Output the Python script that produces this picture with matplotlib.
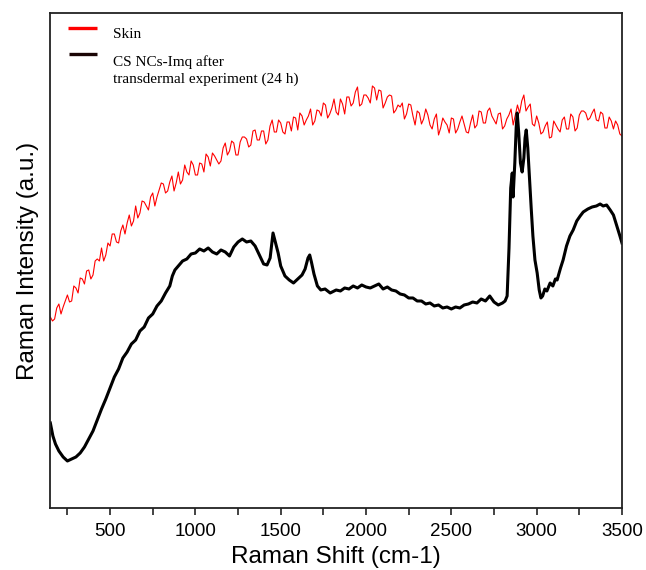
import numpy as np
import matplotlib
matplotlib.use("Agg")
import matplotlib.pyplot as plt
from matplotlib.ticker import MultipleLocator

# --- data (arbitrary intensity units) ---
# skin spectrum, read at 150, 175, ... and at the in-between points 162.5, 187.5, ...
skin_shift_a = np.arange(150, 3501, 25)
skin_int_a = [
    191, 189, 204, 201, 213, 207, 220, 230, 224, 238,
    233, 249, 260, 253, 262, 274, 265, 283, 285, 282,
    302, 295, 306, 298, 315, 311, 325, 315, 326, 317,
    336, 328, 336, 347, 333, 345, 336, 351, 355, 348,
    347, 365, 357, 365, 353, 371, 369, 363, 378, 368,
    377, 368, 388, 376, 385, 374, 386, 391, 378, 392,
    388, 399, 387, 397, 405, 390, 400, 396, 409, 394,
    411, 405, 421, 404, 413, 405, 420, 418, 400, 411,
    412, 398, 401, 389, 404, 392, 397, 384, 399, 383,
    389, 373, 390, 383, 390, 375, 386, 384, 375, 393,
    383, 396, 385, 400, 388, 394, 379, 389, 399, 393,
    395, 413, 401, 384, 392, 374, 382, 370, 387, 379,
    388, 379, 394, 377, 393, 397, 388, 395, 388, 396,
    380, 391, 379, 383, 372,
]
skin_shift_b = np.arange(162.5, 3500, 25)
skin_int_b = [
    187, 200, 194, 207, 206, 222, 215, 229, 237, 229,
    247, 247, 247, 265, 274, 266, 277, 274, 293, 287,
    290, 307, 302, 311, 302, 318, 324, 317, 332, 325,
    324, 343, 333, 343, 333, 344, 354, 342, 352, 344,
    360, 353, 367, 353, 366, 371, 361, 377, 368, 377,
    364, 382, 376, 388, 376, 386, 377, 390, 395, 383,
    392, 383, 398, 392, 403, 394, 409, 393, 404, 411,
    402, 416, 402, 413, 410, 422, 408, 417, 405, 413,
    395, 403, 405, 394, 403, 383, 395, 389, 393, 379,
    394, 380, 386, 375, 389, 379, 392, 376, 385, 380,
    397, 385, 397, 392, 384, 395, 382, 393, 383, 403,
    407, 397, 404, 382, 385, 376, 386, 371, 383, 376,
    391, 379, 391, 380, 397, 395, 390, 399, 387, 394,
    380, 387, 387, 374,
]

cs_shift = [
    150, 165, 180, 200, 225, 250, 275, 300, 325, 350,
    375, 400, 425, 450, 475, 500, 525, 550, 575, 600,
    625, 650, 675, 700, 725, 750, 775, 800, 825, 850,
    865, 880, 900, 925, 950, 975, 1000, 1025, 1050, 1075,
    1100, 1125, 1150, 1175, 1200, 1225, 1250, 1275, 1300, 1325,
    1350, 1375, 1400, 1420, 1438, 1455, 1470, 1485, 1500, 1525,
    1550, 1575, 1600, 1625, 1643, 1660, 1670, 1680, 1695, 1715,
    1735, 1760, 1790, 1825, 1850, 1875, 1900, 1925, 1950, 1975,
    2000, 2025, 2050, 2075, 2100, 2125, 2150, 2175, 2200, 2225,
    2250, 2275, 2300, 2325, 2350, 2375, 2400, 2425, 2450, 2475,
    2500, 2525, 2550, 2575, 2600, 2625, 2650, 2675, 2700, 2725,
    2750, 2775, 2800, 2815, 2827, 2838, 2848, 2857, 2862, 2872,
    2880, 2886, 2895, 2905, 2915, 2925, 2932, 2939, 2948, 2958,
    2968, 2978, 2990, 3003, 3015, 3025, 3035, 3048, 3060, 3079,
    3095, 3110, 3120, 3140, 3155, 3175, 3195, 3214, 3235, 3255,
    3273, 3300, 3325, 3350, 3372, 3390, 3410, 3431, 3450, 3472,
    3488, 3500,
]
cs_int = [
    85, 72, 64, 57, 51, 47, 49, 51, 55, 61,
    69, 77, 88, 99, 109, 120, 131, 139, 150, 156,
    164, 168, 177, 181, 190, 194, 202, 207, 215, 222,
    232, 238, 242, 247, 249, 254, 255, 259, 257, 260,
    256, 254, 258, 256, 252, 261, 266, 269, 266, 267,
    262, 253, 244, 243, 250, 275, 265, 255, 242, 232,
    228, 225, 229, 233, 239, 250, 253, 246, 234, 222,
    218, 219, 215, 218, 217, 220, 219, 222, 220, 223,
    221, 220, 222, 224, 219, 221, 218, 217, 214, 213,
    210, 210, 207, 207, 204, 205, 202, 203, 200, 201,
    199, 201, 200, 203, 204, 206, 205, 209, 207, 212,
    206, 203, 205, 207, 212, 260, 320, 335, 311, 345,
    380, 395, 375, 345, 336, 350, 370, 378, 360, 330,
    300, 272, 248, 235, 218, 210, 212, 219, 217, 225,
    222, 229, 228, 240, 248, 262, 272, 278, 287, 292,
    296, 299, 301, 302, 304, 302, 303, 298, 293, 281,
    272, 265,
]

labels = ["Skin", "CS NCs-Imq after\ntransdermal experiment (24 h)"]

skin_shift = np.concatenate([skin_shift_a, skin_shift_b])
skin_int = np.concatenate([skin_int_a, skin_int_b])
order = np.argsort(skin_shift)
skin_shift, skin_int = skin_shift[order], skin_int[order]

plt.rcParams['font.family'] = ['Liberation Sans', 'DejaVu Sans']

fig = plt.figure(figsize=(6.46, 5.70), dpi=100)
ax = fig.add_axes([0.0774, 0.1088, 0.8854, 0.8684])

ax.plot(skin_shift, skin_int, color='#ff0000', lw=0.8)
ax.plot(cs_shift, cs_int, color='black', lw=2.2)

ax.set_xlim(148, 3500)
ax.set_ylim(0, 495)
ax.xaxis.set_major_locator(MultipleLocator(500))
ax.xaxis.set_minor_locator(MultipleLocator(250))
ax.tick_params(axis='x', which='major', direction='out', length=5, width=1.2,
               labelsize=13.5, color='#222222', pad=6)
ax.tick_params(axis='x', which='minor', direction='out', length=5, width=1.2,
               color='#222222')
ax.set_yticks([])
for s in ax.spines.values():
    s.set_linewidth(1.3)
    s.set_color('#222222')

ax.set_xlabel("Raman Shift (cm-1)", fontsize=17.5, labelpad=4)
ax.set_ylabel("Raman Intensity (a.u.)", fontsize=17.5, labelpad=8)

# legend drawn by hand so the handle sits on the first text line
serif = ['Liberation Serif', 'DejaVu Serif']
ax.plot([0.031, 0.082], [0.970, 0.970], transform=ax.transAxes,
        color='#ff0000', lw=2.4, solid_capstyle='butt')
ax.plot([0.034, 0.082], [0.917, 0.917], transform=ax.transAxes,
        color='#1a0505', lw=2.4, solid_capstyle='butt')
ax.text(0.110, 0.957, labels[0], transform=ax.transAxes, family=serif,
        fontsize=11, va='center', ha='left')
ax.text(0.110, 0.915, labels[1], transform=ax.transAxes, family=serif,
        fontsize=11, va='top', ha='left', linespacing=1.35)

fig.savefig("out.png", dpi=100)
